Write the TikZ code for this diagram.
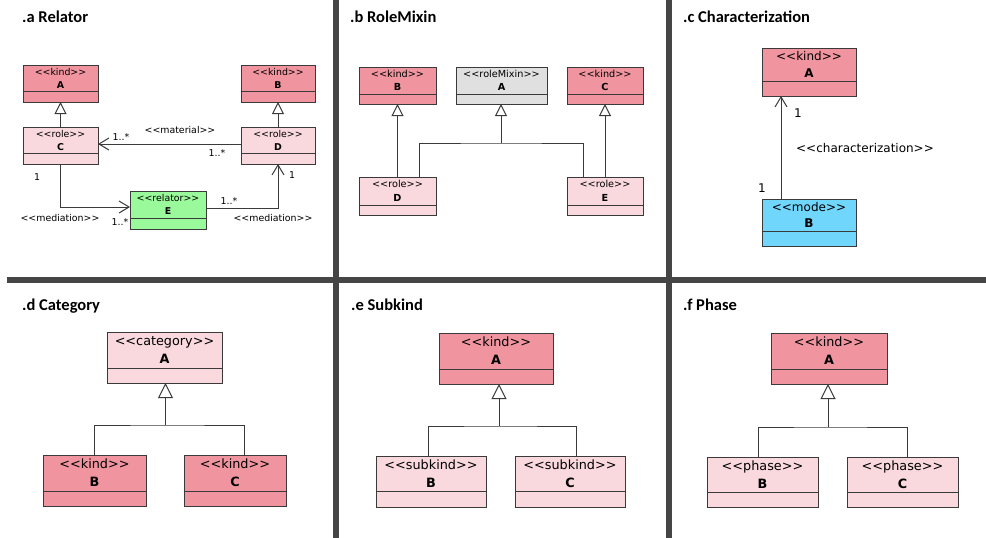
\documentclass[tikz,border=0pt]{standalone}
\usepackage{fontspec}
\newfontfamily\bx{DejaVu Sans}
\newfontfamily\ttl{Carlito}
\usetikzlibrary{arrows.meta,calc}
\definecolor{kindc}{HTML}{F0959F}
\definecolor{rolec}{HTML}{F9D9DD}
\definecolor{relc}{HTML}{9AF99A}
\definecolor{modec}{HTML}{70D6FB}
\definecolor{mixc}{HTML}{E0E0E0}
\definecolor{linec}{HTML}{3A3A3A}
\definecolor{divc}{HTML}{454545}
\newcommand\fsa{\bx\fontsize{9.4}{13}\selectfont}
\newcommand\fsb{\bx\fontsize{9.7}{13.5}\selectfont}
\newcommand\fsc{\bx\fontsize{12}{16.5}\selectfont}
\newcommand\fsd{\bx\fontsize{12.8}{18}\selectfont}
\newcommand\ttlfont{\ttl\bfseries\fontsize{16.5}{20}\selectfont}
\newcommand\st[1]{<\kern0pt<#1>\kern0pt>}
\def\clsfont{\fsa}
\tikzset{
  clsbox/.style={draw=linec, line width=1pt, inner sep=0pt, outer sep=0pt},
  clsline/.style={draw=linec, line width=1pt},
  clstext/.style={inner sep=0pt, align=center, text=black},
  lbl/.style={inner sep=0pt, text=black},
  ttlnode/.style={inner sep=0pt, anchor=base west, font=\ttlfont},
  conn/.style={draw=linec, line width=1pt},
  gen/.style={conn, -{Triangle[length=12pt,width=12pt,fill=white]}},
  genbig/.style={conn, -{Triangle[length=15pt,width=15pt,fill=white]}},
  assoc/.style={conn, -{Straight Barb[length=10pt,width=12pt]}},
}
\newcommand\umlcls[9]{%
  \node[clsbox, fill=#7, minimum width={(#4)-(#2)}, minimum height={(#5)-(#3)}] (#1) at ({((#2)+(#4))/2},{((#3)+(#5))/2}) {};
  \draw[clsline] (#2,#6) -- (#4,#6);
  \node[clstext, font=\clsfont] (#1t) at ({((#2)+(#4))/2},{((#3)+(#6))/2}) {\st{#8}\\\textbf{#9}};
}
\begin{document}
\begin{tikzpicture}[x=1pt,y=-1pt]
\useasboundingbox (0,0) rectangle (986,538);
\fill[white] (0,0) rectangle (986,538);
% dividers
\fill[divc] (333,0) rectangle (339,538);
\fill[divc] (665.5,0) rectangle (671.5,538);
\fill[divc] (7,276.5) rectangle (986,282.5);
% titles
\node[ttlnode] (ta) at (22,22) {.a Relator};
\node[ttlnode] (tb) at (350,22) {.b RoleMixin};
\node[ttlnode] (tc) at (683,22) {.c Characterization};
\node[ttlnode] (td) at (22,310.5) {.d Category};
\node[ttlnode] (te) at (351,310.5) {.e Subkind};
\node[ttlnode] (tf) at (683,310.5) {.f Phase};
% ---------- panel a
\def\clsfont{\fsa}
\umlcls{aA}{23}{65}{98}{102}{91}{kindc}{kind}{A}
\umlcls{aB}{241}{65}{315}{102}{91}{kindc}{kind}{B}
\umlcls{aC}{23}{127}{98}{164}{153}{rolec}{role}{C}
\umlcls{aD}{241}{127}{315}{164}{153}{rolec}{role}{D}
\umlcls{aE}{130}{191}{206}{229}{218}{relc}{relator}{E}
\draw[gen] (aC) -- (aA);
\draw[gen] (aD) -- (aB);
\draw[assoc] ([yshift=1.5pt]aD.west) -- ([yshift=1.5pt]aC.east);
\draw[assoc] (aC.south) |- ([yshift=3pt]aE.west);
\draw[assoc] ([yshift=2pt]aE.east) -| (aD.south);
\node[lbl, font=\fsa] (aL1) at (180,130) {\st{material}};
\node[lbl, font=\fsa] (aL2) at (121,137) {1..*};
\node[lbl, font=\fsa] (aL3) at (217,153) {1..*};
\node[lbl, font=\fsa] (aL4) at (37,177) {1};
\node[lbl, font=\fsa] (aL5) at (60,218) {\st{mediation}};
\node[lbl, font=\fsa] (aL6) at (120,222) {1..*};
\node[lbl, font=\fsa] (aL7) at (229,201) {1..*};
\node[lbl, font=\fsa] (aL8) at (292,175) {1};
\node[lbl, font=\fsa] (aL9) at (273,218) {\st{mediation}};
% ---------- panel b
\def\clsfont{\fsb}
\umlcls{bB}{359}{67}{436}{104}{94}{kindc}{kind}{B}
\umlcls{bA}{456}{67}{547}{104}{94}{mixc}{roleMixin}{A}
\umlcls{bC}{567}{67}{643}{104}{94}{kindc}{kind}{C}
\umlcls{bD}{359}{177}{436}{215}{205}{rolec}{role}{D}
\umlcls{bE}{567}{177}{643}{215}{205}{rolec}{role}{E}
\draw[gen] (bD) -- (bB);
\draw[gen] (bE) -- (bC);
\coordinate (bJ) at (501,143);
\draw[conn] ([xshift=21.5pt]bD.north) |- (bJ) -| ([xshift=-22pt]bE.north);
\draw[gen] (bJ) -- (bJ |- bA.south);
% ---------- panel c
\def\clsfont{\fsc}
\umlcls{cA}{762}{48}{856}{96}{81}{kindc}{kind}{A}
\umlcls{cB}{762}{199}{856}{246}{231}{modec}{mode}{B}
\draw[assoc] ([xshift=-28pt]cB.north) -- ([xshift=-28pt]cA.south);
\node[lbl, font=\fsc] (cL1) at (798,113) {1};
\node[lbl, font=\fsc] (cL2) at (865,148) {\st{characterization}};
\node[lbl, font=\fsc] (cL3) at (762,188) {1};
% ---------- panel d
\def\clsfont{\fsd}
\umlcls{dA}{107}{332}{222}{383}{368}{rolec}{category}{A}
\umlcls{dB}{43}{455}{146}{506}{491}{kindc}{kind}{B}
\umlcls{dC}{184}{455}{286}{506}{491}{kindc}{kind}{C}
\coordinate (dJ) at (165.5,425);
\draw[conn] (dB.north) |- (dJ) -| ([xshift=9pt]dC.north);
\draw[genbig] (dJ) -- (dJ |- dA.south);
% ---------- panel e
\umlcls{eA}{439}{333}{553}{384}{369}{kindc}{kind}{A}
\umlcls{eB}{376}{456}{486}{507}{491}{rolec}{subkind}{B}
\umlcls{eC}{515}{456}{625}{507}{491}{rolec}{subkind}{C}
\coordinate (eJ) at (499,426);
\draw[conn] ([xshift=-3pt]eB.north) |- (eJ) -| ([xshift=6pt]eC.north);
\draw[genbig] (eJ) -- (eJ |- eA.south);
% ---------- panel f
\umlcls{fA}{771}{333}{887}{384}{369}{kindc}{kind}{A}
\umlcls{fB}{707}{457}{818}{507}{492}{rolec}{phase}{B}
\umlcls{fC}{847}{457}{958}{507}{492}{rolec}{phase}{C}
\coordinate (fJ) at (828,427);
\draw[conn] ([xshift=-4.5pt]fB.north) |- (fJ) -| ([xshift=4.5pt]fC.north);
\draw[genbig] (fJ) -- (fJ |- fA.south);
\end{tikzpicture}
\end{document}
